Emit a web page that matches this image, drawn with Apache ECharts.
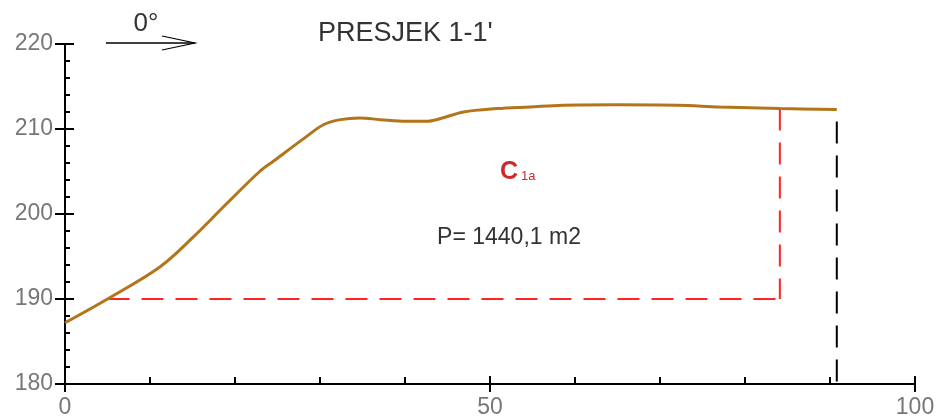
<!DOCTYPE html>
<html><head><meta charset="utf-8">
<script src="https://cdn.jsdelivr.net/npm/echarts@6/dist/echarts.min.js"></script>
<style>html,body{margin:0;padding:0;background:#fff}#c{width:942px;height:420px}</style>
</head><body><div id="c"></div>
<script>
// Terrain profile (distance, elevation)
const terrainX = [0, 5, 11.2, 15.1, 19, 22.9, 24.5, 28.4, 30.4, 32.4, 34.7, 37.1, 40.2, 42.5, 44.1, 46.9, 50.8, 54.7, 58.6, 65, 72, 77, 84.1, 90.8];
const terrainY = [187.2, 190.0, 193.8, 197.3, 201.2, 205.0, 206.2, 209.1, 210.5, 211.1, 211.3, 211.1, 210.9, 210.9, 211.2, 212.0, 212.4, 212.6, 212.8, 212.85, 212.8, 212.6, 212.4, 212.3];
// Red dashed outline (C1a area boundary): bottom edge and right edge
const redBottomX = [5, 84.1];
const redBottomY = [190, 190];
const redRightX = [84.1, 84.1];
const redRightY = [212.4, 190];
// Black dashed end line
const endX = [90.8, 90.8];
const endY = [212.3, 180];
// Axis ticks
const xTickLabels = [0, 50, 100];
const yTickLabels = [180, 190, 200, 210, 220];

const zip = (a, b) => a.map((v, i) => [v, b[i]]);
const xMin = xTickLabels[0], xMax = xTickLabels[xTickLabels.length - 1], xInt = xTickLabels[1] - xTickLabels[0];
const yMin = yTickLabels[0], yMax = yTickLabels[yTickLabels.length - 1], yInt = yTickLabels[1] - yTickLabels[0];
const FONT = '"Liberation Sans", Arial, sans-serif';

const chart = echarts.init(document.getElementById('c'), null, {renderer: 'canvas'});
const tickStyle = {color: '#000', width: 2};
const RED = '#ff2424';
chart.setOption({
  animation: false,
  backgroundColor: '#fff',
  grid: {left: 65, right: 27, top: 44, bottom: 36, containLabel: false, outerBoundsMode: 'none'},
  xAxis: [
    {type: 'value', position: 'bottom', min: xMin, max: xMax, interval: xInt,
     axisLine: {show: true, onZero: false, lineStyle: {color: '#000', width: 2}},
     axisTick: {show: true, inside: false, length: 8, lineStyle: tickStyle},
     axisLabel: {fontSize: 23, color: '#777', margin: 12, fontFamily: FONT},
     splitLine: {show: false}},
    {type: 'value', position: 'bottom', min: xMin, max: xMax, interval: xInt,
     axisLine: {show: false, onZero: false},
     axisTick: {show: true, inside: true, length: 8, lineStyle: tickStyle},
     minorTick: {show: true, splitNumber: 5, length: 7, lineStyle: tickStyle},
     axisLabel: {show: false}, splitLine: {show: false}}
  ],
  yAxis: [
    {type: 'value', position: 'left', min: yMin, max: yMax, interval: yInt,
     axisLine: {show: true, onZero: false, lineStyle: {color: '#000', width: 2}},
     axisTick: {show: true, inside: false, length: 10, lineStyle: tickStyle},
     axisLabel: {fontSize: 23, color: '#777', margin: 12, fontFamily: FONT},
     splitLine: {show: false}},
    {type: 'value', position: 'left', min: yMin, max: yMax, interval: yInt,
     axisLine: {show: false, onZero: false},
     axisTick: {show: true, inside: true, length: 9, lineStyle: tickStyle},
     minorTick: {show: true, splitNumber: 5, length: 5, lineStyle: tickStyle},
     axisLabel: {show: false}, splitLine: {show: false}}
  ],
  series: [
    {type: 'line', name: 'redBottom', data: zip(redBottomX, redBottomY), showSymbol: false, silent: true, z: 2,
     lineStyle: {color: RED, width: 2, type: [22, 12]}},
    {type: 'line', name: 'redRight', data: zip(redRightX, redRightY), showSymbol: false, silent: true, z: 2,
     lineStyle: {color: RED, width: 2, type: [22, 12]}},
    {type: 'line', name: 'end', data: zip(endX, endY), showSymbol: false, silent: true, z: 2,
     lineStyle: {color: '#000', width: 2, type: [22, 12], dashOffset: 22}},
    {type: 'line', name: 'terrain', data: zip(terrainX, terrainY), showSymbol: false, smooth: 0.35, z: 3,
     lineStyle: {color: '#b3741a', width: 3}}
  ],
  graphic: [
    {type: 'line', shape: {x1: 106, y1: 43, x2: 195, y2: 43}, style: {stroke: '#000', lineWidth: 1.5}},
    {type: 'polyline', shape: {points: [[162, 36], [195, 43], [162, 50]]}, style: {stroke: '#000', lineWidth: 1.2, fill: null}},
    {type: 'text', x: 146, y: 24, style: {text: '0°', font: '26px ' + FONT, fill: '#333', align: 'center', verticalAlign: 'middle'}},
    {type: 'text', x: 318, y: 34, style: {text: "PRESJEK 1-1'", font: '27px ' + FONT, fill: '#333', align: 'left', verticalAlign: 'middle'}},
    {type: 'text', x: 500, y: 172, style: {
      text: '{c|C}{s|1a}', align: 'left', verticalAlign: 'middle',
      rich: {c: {fontSize: 25, lineHeight: 25, fontWeight: 'bold', fill: '#cc2b2b', fontFamily: FONT, verticalAlign: 'bottom'},
             s: {fontSize: 13, lineHeight: 13, fill: '#cc2b2b', fontFamily: FONT, verticalAlign: 'bottom', padding: [0, 0, 2, 3]}}}},
    {type: 'text', x: 509, y: 238, style: {text: 'P= 1440,1 m2', font: '23px ' + FONT, fill: '#333', align: 'center', verticalAlign: 'middle'}}
  ]
});
</script>
</body></html>
